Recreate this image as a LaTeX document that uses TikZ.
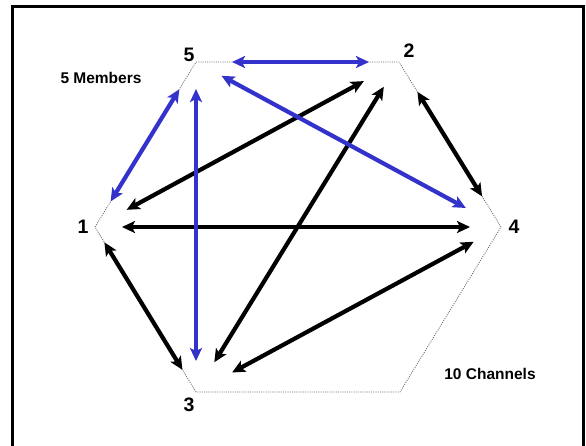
\documentclass[tikz,border=0pt]{standalone}
\usepackage{fontspec}
\setmainfont{Liberation Sans}
\usepackage{tikz}
\usetikzlibrary{arrows.meta}
\usetikzlibrary{positioning}
\definecolor{chanblue}{RGB}{51,51,204}

\begin{document}
\begin{tikzpicture}
		[x=1pt,y=-1pt,
		font=\bfseries\fontsize{15.5}{18}\selectfont,
		>={Stealth[length=13pt,width=12pt,inset=3pt]}
		]
		
		% Styles: channels, hexagon and member labels
		\tikzstyle{black channel}=[<->,line width=4.2pt,black];
		\tikzstyle{blue channel}=[<->,line width=4.2pt,chanblue];
		\tikzstyle{hexagon}=[black!60,line width=0.8pt,dash pattern=on 1pt off 1.2pt];
		\tikzstyle{member label}=[font=\bfseries\fontsize{19.5}{22}\selectfont];
		
		% Picture size and frame
		\useasboundingbox (0,0) rectangle (586,445);
		\draw[line width=3pt] (12,6) rectangle (583,470);
		
		% Members on the hexagon
		\coordinate (m1) at (95,227);
		\coordinate (m5) at (196,62);
		\coordinate (m2) at (399,62);
		\coordinate (m4) at (501,227);
		\coordinate (c34) at (400,392);
		\coordinate (m3) at (196,392);
		\draw[hexagon](m1)--(m5)--(m2)--(m4)--(c34)--(m3)--cycle;
		
		% Member numbers
		\foreach \m/\dx/\dy in {1/-12/0, 2/10/11, 3/-7/-13, 4/13/0, 5/-7/7}
			\node[member label, xshift=\dx, yshift=\dy](l\m)at(m\m){\m};
		
		% Black channels
		\foreach \a/\b/\s/\t in {2/1/40/36, 1/4/27/31, 2/3/29/35, 2/4/35/36, 1/3/18/26, 3/4/41/31}
			\draw[black channel, shorten <=\s, shorten >=\t](m\a)--(m\b);
		
		% Blue channels (member 5)
		\foreach \a/\b/\s/\t in {5/2/36/30, 5/1/32/30, 5/3/27/31, 5/4/29/40}
			\draw[blue channel, shorten <=\s, shorten >=\t](m\a)--(m\b);
		
		% Captions
		\node(members)at(101,78){5 Members};
		\node(channels)at(490,374){10 Channels};
		\end{tikzpicture}
\end{document}
